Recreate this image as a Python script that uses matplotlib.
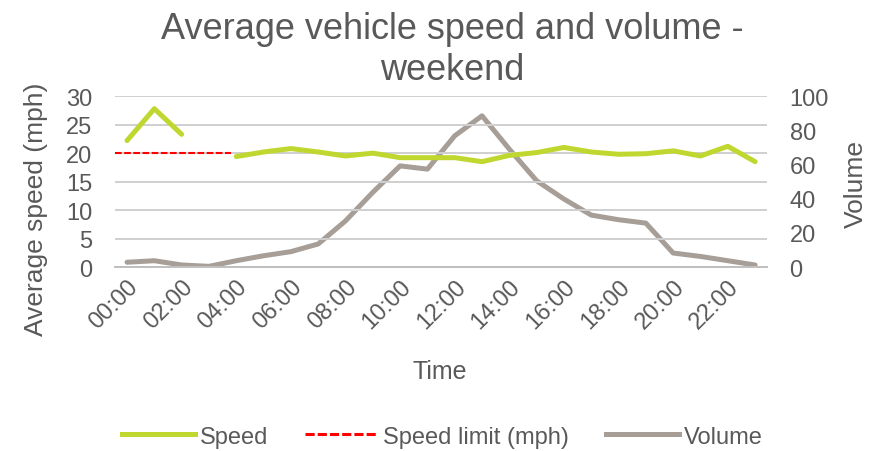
import matplotlib
matplotlib.use("Agg")
import matplotlib.pyplot as plt
from matplotlib.lines import Line2D
import numpy as np

plt.rcParams['font.family'] = ['Liberation Sans', 'DejaVu Sans']

hours = [f"{h:02d}:00" for h in range(24)]
speed = [22.2, 27.8, 23.3, np.nan, 19.4, 20.2, 20.8, 20.2, 19.5, 20.0, 19.2, 19.2,
         19.2, 18.5, 19.6, 20.1, 21.0, 20.2, 19.8, 19.9, 20.4, 19.5, 21.2, 18.5]
volume = [2.8, 3.7, 1.2, 0.4, 3.7, 6.6, 9.0, 13.5, 27.0, 43.7, 59.2, 57.3,
          76.8, 88.5, 69.0, 50.5, 39.8, 30.4, 27.7, 25.7, 8.2, 6.2, 3.7, 1.2]
speed_limit = 20
speed_limit_until = 3.8  # hour index where the limit line stops

TXT = '#595959'
GREEN = '#C0D72F'
GREY = '#A69E97'
RED = '#FF0000'
GRID = '#CFCFCF'

fig = plt.figure(figsize=(8.76, 4.52), dpi=100)
ax = fig.add_axes([0.131, 0.407, 0.745, 0.378])
ax2 = ax.twinx()

x = np.arange(len(hours))
ax.set_xlim(-0.45, len(hours) - 0.55)
ax.set_ylim(0, 30)
ax2.set_ylim(0, 100)

ax.set_yticks([0, 5, 10, 15, 20, 25, 30])
ax2.set_yticks([0, 20, 40, 60, 80, 100])
ax.grid(axis='y', color=GRID, linewidth=1.4)
ax.set_axisbelow(True)

ax.set_xticks(x[::2])
ax.set_xticklabels(hours[::2], rotation=45, ha='right', rotation_mode='anchor')

for a in (ax, ax2):
    for s in a.spines.values():
        s.set_visible(False)
    a.tick_params(length=0, colors=TXT, labelsize=17)
ax.spines['bottom'].set_visible(True)
ax.spines['bottom'].set_color('#BFBFBF')
ax.spines['bottom'].set_linewidth(1.4)
ax.tick_params(axis='y', pad=16)
ax2.tick_params(axis='y', pad=16)
ax.tick_params(axis='x', pad=6)

ax.hlines(speed_limit, ax.get_xlim()[0], speed_limit_until, colors=RED,
          linestyles=(0, (3.2, 1.2)), linewidth=1.5, zorder=2)
ax2.plot(x, volume, color=GREY, linewidth=3.6, solid_capstyle='round',
         solid_joinstyle='round', zorder=3)
ax.set_zorder(ax2.get_zorder() + 1)
ax.patch.set_visible(False)
ax.plot(x, speed, color=GREEN, linewidth=3.6, solid_capstyle='round',
        solid_joinstyle='round', zorder=4)

ax.set_ylabel('Average speed (mph)', color=TXT, fontsize=19)
ax.yaxis.set_label_coords(-0.103, 0.345)
ax2.set_ylabel('Volume', color=TXT, fontsize=19)
ax2.yaxis.set_label_coords(1.117, 0.49)
ax.set_xlabel('Time', color=TXT, fontsize=18)
ax.xaxis.set_label_coords(0.498, -0.538)

fig.text(0.516, 0.8896, 'Average vehicle speed and volume -\nweekend', ha='center',
         va='center', color=TXT, fontsize=26, linespacing=1.25)

handles = [Line2D([], [], color=GREEN, linewidth=3.6),
           Line2D([], [], color=RED, linewidth=2.2, linestyle=(0, (3, 1))),
           Line2D([], [], color=GREY, linewidth=3.6)]
fig.legend(handles, ['Speed', 'Speed limit (mph)', 'Volume'], loc='center',
           bbox_to_anchor=(0.505, 0.032), ncol=3, frameon=False, fontsize=17,
           labelcolor=TXT, handlelength=3.1, handletextpad=0.2, columnspacing=1.57)

fig.savefig('out.png', dpi=100)
